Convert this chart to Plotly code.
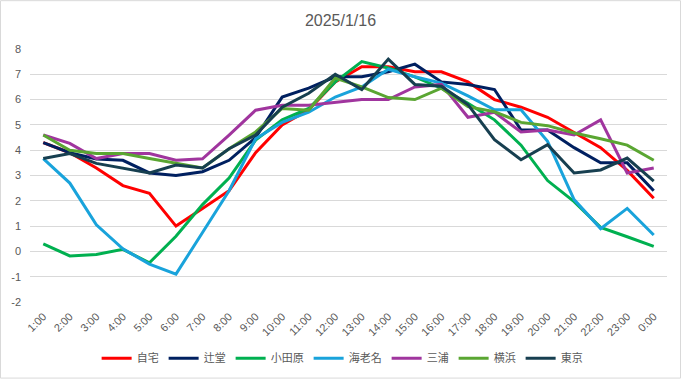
import plotly.graph_objects as go

hours = ["1:00", "2:00", "3:00", "4:00", "5:00", "6:00", "7:00", "8:00", "9:00", "10:00",
         "11:00", "12:00", "13:00", "14:00", "15:00", "16:00", "17:00", "18:00", "19:00",
         "20:00", "21:00", "22:00", "23:00", "0:00"]

jitaku = [4.3, 3.9, 3.3, 2.6, 2.3, 1.0, 1.7, 2.4, 3.9, 5.0, 5.6, 6.7, 7.3, 7.3, 7.1, 7.1,
          6.7, 6.0, 5.7, 5.3, 4.7, 4.1, 3.2, 2.1]
tsujido = [4.3, 3.9, 3.65, 3.6, 3.1, 3.0, 3.15, 3.6, 4.5, 6.1, 6.45, 6.9, 6.9, 7.1, 7.4, 6.7,
           6.6, 6.4, 4.8, 4.8, 4.1, 3.5, 3.5, 2.4]
odawara = [0.3, -0.18, -0.12, 0.08, -0.45, 0.6, 1.85, 2.9, 4.4, 5.2, 5.65, 6.7, 7.5, 7.25,
           6.9, 6.45, 5.85, 5.2, 4.2, 2.8, 1.97, 0.95, 0.58, 0.2]
ebina = [3.67, 2.7, 1.05, 0.1, -0.5, -0.9, 0.75, 2.4, 4.45, 5.1, 5.5, 6.1, 6.5, 7.2, 6.9,
         6.65, 6.15, 5.6, 5.6, 4.35, 2.05, 0.9, 1.7, 0.65]
miura = [4.6, 4.27, 3.67, 3.87, 3.87, 3.6, 3.66, 4.6, 5.58, 5.78, 5.78, 5.9, 6.0, 6.0, 6.5,
         6.6, 5.3, 5.5, 4.72, 4.8, 4.6, 5.2, 3.1, 3.3]
yokohama = [4.6, 4.0, 3.87, 3.87, 3.67, 3.48, 3.3, 4.06, 4.72, 5.65, 5.58, 6.85, 6.5, 6.08,
            6.0, 6.45, 5.72, 5.52, 5.1, 4.97, 4.68, 4.45, 4.2, 3.6]
tokyo = [3.67, 3.87, 3.48, 3.28, 3.1, 3.41, 3.3, 4.06, 4.6, 5.7, 6.25, 7.0, 6.4, 7.6, 6.6,
         6.53, 5.8, 4.42, 3.62, 4.22, 3.1, 3.22, 3.69, 2.78]

y_ticks = [-2, -1, 0, 1, 2, 3, 4, 5, 6, 7, 8]
y_tick_labels = ["-2", "-1", "0", "1", "2", "3", "4", "5", "6", "7", "8"]

series_names = ["自宅", "辻堂", "小田原", "海老名", "三浦", "横浜", "東京"]
series_values = [jitaku, tsujido, odawara, ebina, miura, yokohama, tokyo]
series_colors = ["#FF0000", "#002060", "#00B050", "#19A3DB", "#A0359E", "#5AA632", "#173F50"]

fig = go.Figure()
for name, vals, col in zip(series_names, series_values, series_colors):
    fig.add_trace(go.Scatter(x=hours, y=vals, name=name, mode="lines",
                             line=dict(color=col, width=3)))

font_family = "Liberation Sans, Noto Sans CJK JP, sans-serif"
fig.update_layout(
    width=681, height=379,
    margin=dict(l=30, r=14, t=49, b=77, autoexpand=False),
    paper_bgcolor="white", plot_bgcolor="white",
    font=dict(family=font_family, color="#595959", size=11),
    title=dict(text="2025/1/16", x=0.5, xanchor="center", y=0.947, yanchor="middle",
               font=dict(size=16, color="#595959", family=font_family)),
    showlegend=True,
    legend=dict(orientation="h", x=0.49, xanchor="center", y=-0.222, yanchor="middle",
                font=dict(size=11, color="#595959", family="Noto Sans CJK JP, sans-serif"),
                itemwidth=30, tracegroupgap=0, bgcolor="rgba(0,0,0,0)"),
    xaxis=dict(type="category", tickangle=-45, showgrid=False, showline=False,
               ticks="", tickfont=dict(size=11, color="#595959"), automargin=False,
               ticklabelstandoff=5,
               range=[-0.5, 23.5], zeroline=False, fixedrange=True),
    yaxis=dict(range=[-2, 8], tickvals=y_ticks, ticktext=y_tick_labels, showgrid=True,
               gridcolor="#D9D9D9", gridwidth=1, zeroline=False, showline=False, ticks="",
               automargin=False, ticklabelstandoff=8,
               tickfont=dict(size=11, color="#595959"), fixedrange=True),
)

fig.add_shape(type="rect", xref="paper", yref="paper",
              x0=(0.5 - 30) / 637, x1=(680.5 - 30) / 637,
              y0=(302.3 - 378.5) / 253.4, y1=(302.3 - 0.5) / 253.4,
              line=dict(color="#D9D9D9", width=1), fillcolor="rgba(0,0,0,0)", layer="below")

fig.write_html("out.html", config={"displayModeBar": False},
               post_script="document.body.style.margin='0';")
